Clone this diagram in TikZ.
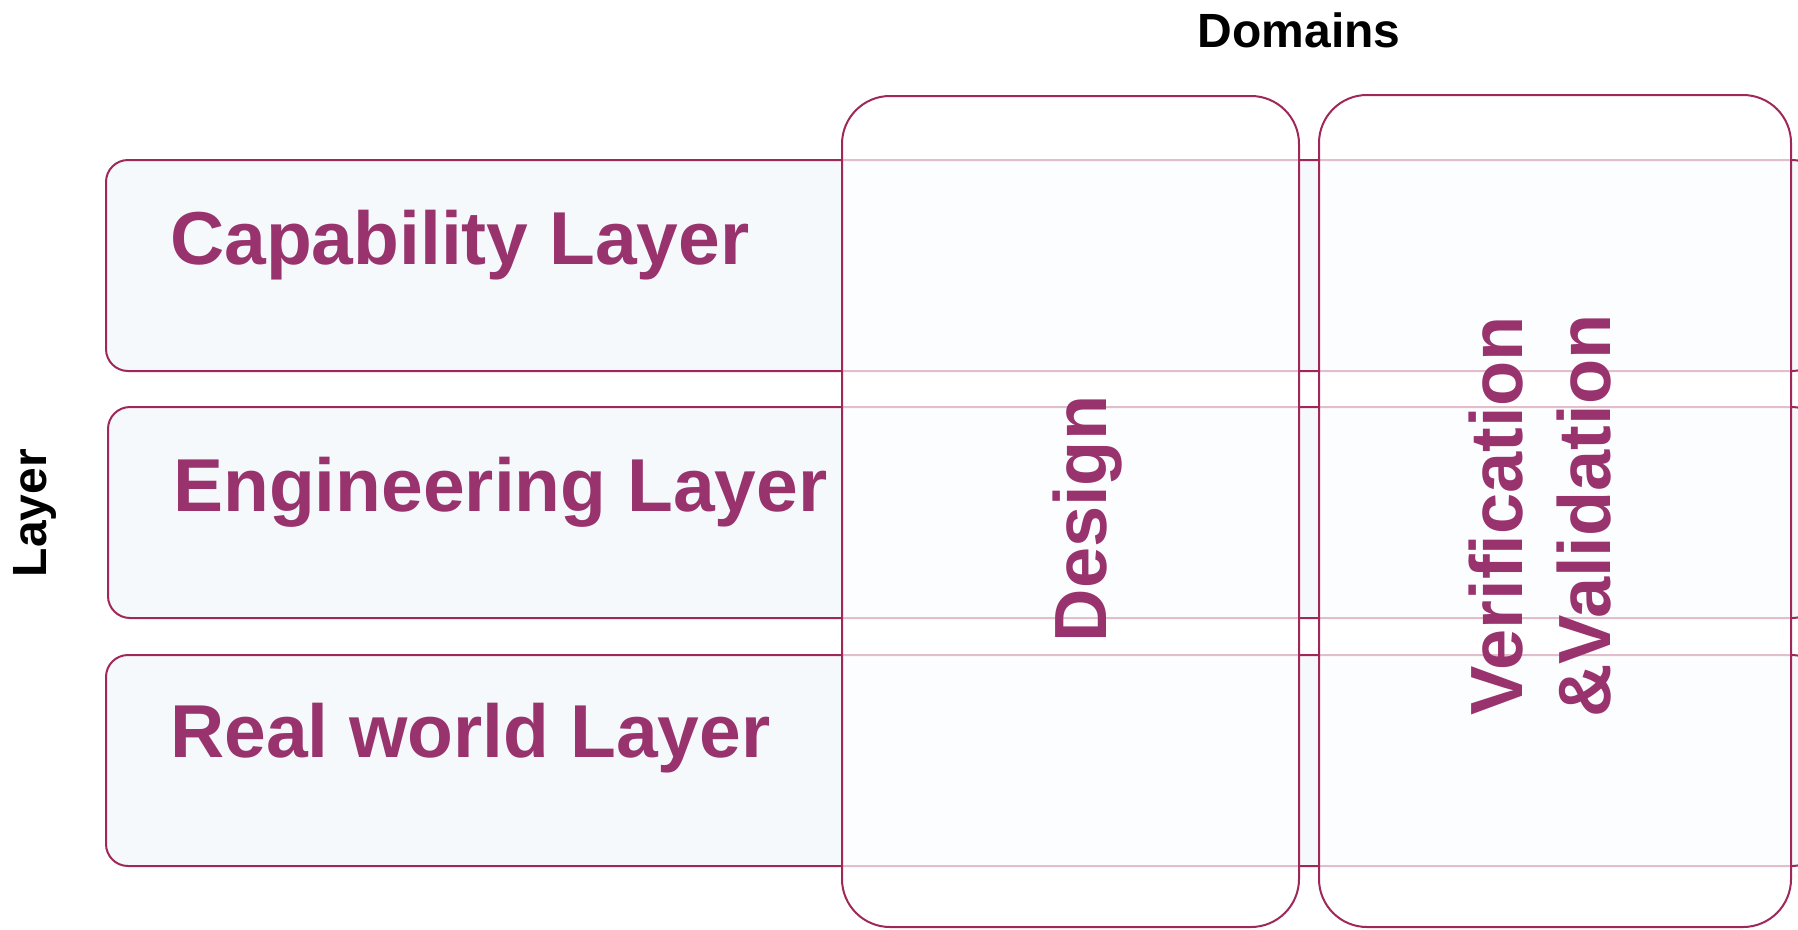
\documentclass[tikz,border=0pt]{standalone}
\usepackage{fontspec}
\setmainfont{Liberation Sans}
\definecolor{rim}{RGB}{160,40,88}
\definecolor{ink}{RGB}{153,51,110}
\definecolor{layerfill}{RGB}{245,249,252}
\begin{document}
\begin{tikzpicture}[x=1pt,y=-1pt,
  layerbox/.style={draw=rim, line width=2pt, fill=layerfill,
    rounded corners=22pt, anchor=north west, inner sep=0pt, outer sep=0pt},
  domainbox/.style={draw=rim, line width=2pt, fill=white, fill opacity=0.7,
    rounded corners=48pt, anchor=north west, inner sep=0pt, outer sep=0pt},
  layertext/.style={text=ink, font=\fontsize{75}{88}\selectfont\bfseries,
    inner sep=0pt, anchor=base west},
  domaintext/.style={text=ink, font=\fontsize{74}{88}\selectfont\bfseries,
    inner sep=0pt, rotate=90, align=center},
  axistext/.style={text=black, font=\fontsize{48}{56}\selectfont\bfseries,
    inner sep=0pt, anchor=base}
]
\useasboundingbox (0,0) rectangle (1798,929);

% horizontal layers (they run past the right edge)
\node[layerbox, minimum width=1709pt, minimum height=211pt] (capbox) at (106,160) {};
\node[layerbox, minimum width=1707pt, minimum height=211pt] (engbox) at (108,407) {};
\node[layerbox, minimum width=1709pt, minimum height=211pt] (realbox) at (106,655) {};

\node[layertext] (captext)  at (170,264) {Capability Layer};
\node[layertext] (engtext)  at (173,511) {Engineering Layer};
\node[layertext] (realtext) at (170,757) {Real world Layer};

% vertical domains laid over the layers
\node[domainbox, minimum width=457pt, minimum height=831pt] (designbox) at (842,96) {};
\node[domainbox, minimum width=472pt, minimum height=832pt] (vvbox) at (1319,95) {};

\node[domaintext, anchor=base] (designtext) at (1106,519) {Design};
\node[domaintext] (vvtext) at (1540,516) {Verification\\\&Validation};

% axis captions
\node[axistext] (domains) at (1299,47) {Domains};
\node[axistext, rotate=90] (layer) at (46,513) {Layer};
\end{tikzpicture}
\end{document}
